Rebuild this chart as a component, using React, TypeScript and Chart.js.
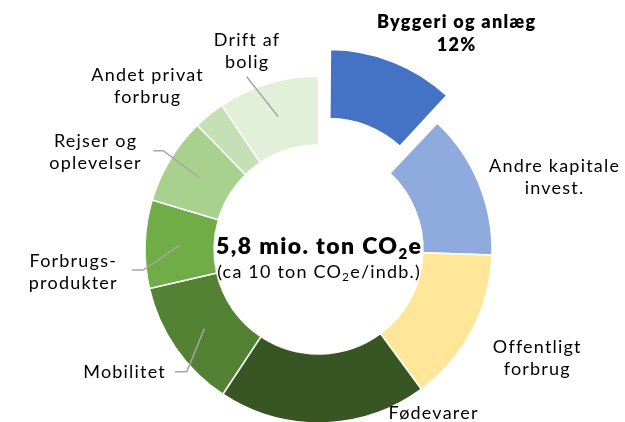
import React, { useEffect, useRef } from "react";
import { Chart, registerables } from "chart.js";

Chart.register(...registerables);

// ---- data ----
const categories = [
  "Byggeri og anlæg",
  "Andre kapitale invest.",
  "Offentligt forbrug",
  "Fødevarer",
  "Mobilitet",
  "Forbrugsprodukter",
  "Rejser og oplevelser",
  "Andet privat forbrug",
  "Drift af bolig",
];
const shares = [12.0, 13.5, 14.4, 19.4, 12.1, 8.2, 8.1, 2.9, 9.4];
const labelLines = [
  ["Byggeri og anlæg"],
  ["Andre kapitale", "invest."],
  ["Offentligt", "forbrug"],
  ["Fødevarer"],
  ["Mobilitet"],
  ["Forbrugs-", "produkter"],
  ["Rejser og", "oplevelser"],
  ["Andet privat", "forbrug"],
  ["Drift af", "bolig"],
];
const highlighted = [true, false, false, false, false, false, false, false, false];
const totalLine = ["5,8 mio. ton CO", "2", "e"];
const perCapitaLine = ["(ca 10 ton CO", "2", "e/indb.)"];

// ---- style / layout ----
const colors = ["#4472C4", "#8FAADC", "#FFE699", "#375623", "#548235", "#70AD47", "#A9D18E", "#C5E0B4", "#E2F0D9"];
const W = 625;
const H = 422;
const FONT = "Lato, 'Noto Sans', sans-serif";
const LABEL_SIZE = 18;
const LINE_H = 22;
// label anchor (centre of first line) relative to chart centre
const labelPos: [number, number][] = [
  [137.5, -227.5],
  [235.5, -83.5],
  [218.2, 97.2],
  [114.5, 163.5],
  [-194.5, 122.2],
  [-245.8, 11.2],
  [-223.5, -108.8],
  [-171.5, -174.5],
  [-72, -209.5],
];
// leader lines: list of points relative to centre, ending at the arc centre
const leaders: ([number, number][] | null)[] = [
  null,
  null,
  null,
  null,
  [[-143.5, 122.2], [-131.8, 122.2]],
  [[-186.8, 20.5], [-175.2, 20.5]],
  [[-165.2, -98.8], [-155.2, -98.8]],
  null,
  [[-71.8, -172.8]],
];

function setSpacing(ctx: any, px: number) {
  if ("letterSpacing" in ctx) ctx.letterSpacing = `${px}px`;
}

function drawMixed(ctx: CanvasRenderingContext2D, parts: string[], cx: number, baseline: number, size: number, subSize: number, subDrop: number, weight: string, spacing: number) {
  setSpacing(ctx, spacing);
  const widths = parts.map((p, i) => {
    ctx.font = `${weight} ${i === 1 ? subSize : size}px ${FONT}`;
    return ctx.measureText(p).width;
  });
  const total = widths.reduce((a, b) => a + b, 0) - spacing;
  let x = cx - total / 2;
  ctx.textAlign = "left";
  ctx.textBaseline = "alphabetic";
  parts.forEach((p, i) => {
    ctx.font = `${weight} ${i === 1 ? subSize : size}px ${FONT}`;
    ctx.fillText(p, x, baseline + (i === 1 ? subDrop : 0));
    x += widths[i];
  });
}

const annotationPlugin = {
  id: "annotations",
  afterDatasetUpdate(chart: any, args: any) {
    // keep exploded slice at the same radii (pure translation)
    const meta = args.meta;
    meta.data.forEach((el: any) => {
      const off = ((el.options && el.options.offset) || 0) / 4;
      if (off > 0) {
        const fix = off * (1 - Math.sin(Math.min(Math.PI, el.circumference || 0)));
        el.outerRadius -= fix;
        el.innerRadius -= fix;
      }
    });
  },
  afterDraw(chart: any) {
    const ctx: CanvasRenderingContext2D = chart.ctx;
    const meta = chart.getDatasetMeta(0);
    const first = meta.data[0];
    const cx = first.x;
    const cy = first.y;
    ctx.save();
    // leader lines
    ctx.strokeStyle = "#A6A6A6";
    ctx.lineWidth = 1.5;
    leaders.forEach((pts, i) => {
      if (!pts) return;
      const end = meta.data[i].getCenterPoint();
      ctx.beginPath();
      ctx.moveTo(cx + pts[0][0], cy + pts[0][1]);
      for (let k = 1; k < pts.length; k++) ctx.lineTo(cx + pts[k][0], cy + pts[k][1]);
      ctx.lineTo(end.x, end.y);
      ctx.stroke();
    });
    // labels
    ctx.fillStyle = "#000000";
    ctx.textAlign = "left";
    ctx.textBaseline = "middle";
    labelLines.forEach((lines, i) => {
      const [dx, dy] = labelPos[i];
      const bold = highlighted[i];
      const sp = bold ? 1.3 : 1.2;
      setSpacing(ctx, sp);
      ctx.font = `${bold ? "800" : "normal"} ${bold ? 18 : LABEL_SIZE}px ${FONT}`;
      const all = bold ? [...lines, `${Math.round(shares[i])}%`] : lines;
      all.forEach((t, k) => {
        const w = ctx.measureText(t).width - sp;
        ctx.fillText(t, cx + dx - w / 2, cy + dy + k * (bold ? 23 : LINE_H));
      });
    });
    // centre text
    drawMixed(ctx, totalLine, cx, cy + 4, 23, 15, 5, "800", 1.4);
    drawMixed(ctx, perCapitaLine, cx, cy + 28, 18, 12, 3, "normal", 1.2);
    ctx.restore();
  },
};

export default function App() {
  const ref = useRef<HTMLCanvasElement | null>(null);
  useEffect(() => {
    document.body.style.margin = "0";
    if (!ref.current) return;
    const chart = new Chart(ref.current, {
      type: "doughnut",
      data: {
        labels: categories,
        datasets: [
          {
            data: shares,
            backgroundColor: colors,
            borderColor: "#FFFFFF",
            borderWidth: 1.5,
            offset: highlighted.map((h) => (h ? 114 : 0)),
            hoverOffset: 0,
          },
        ],
      },
      options: {
        responsive: false,
        animation: false,
        radius: 173.5,
        cutout: "60.2%",
        layout: { padding: { left: 12, right: 0, top: 77, bottom: 0 } },
        plugins: {
          legend: { display: false },
          tooltip: { enabled: false },
          title: { display: false },
        },
        events: [],
      } as any,
      plugins: [annotationPlugin],
    });
    return () => chart.destroy();
  }, []);
  return (
    <div style={{ width: W, height: H, background: "#FFFFFF" }}>
      <canvas ref={ref} width={W} height={H} style={{ display: "block", width: W, height: H }} />
    </div>
  );
}
